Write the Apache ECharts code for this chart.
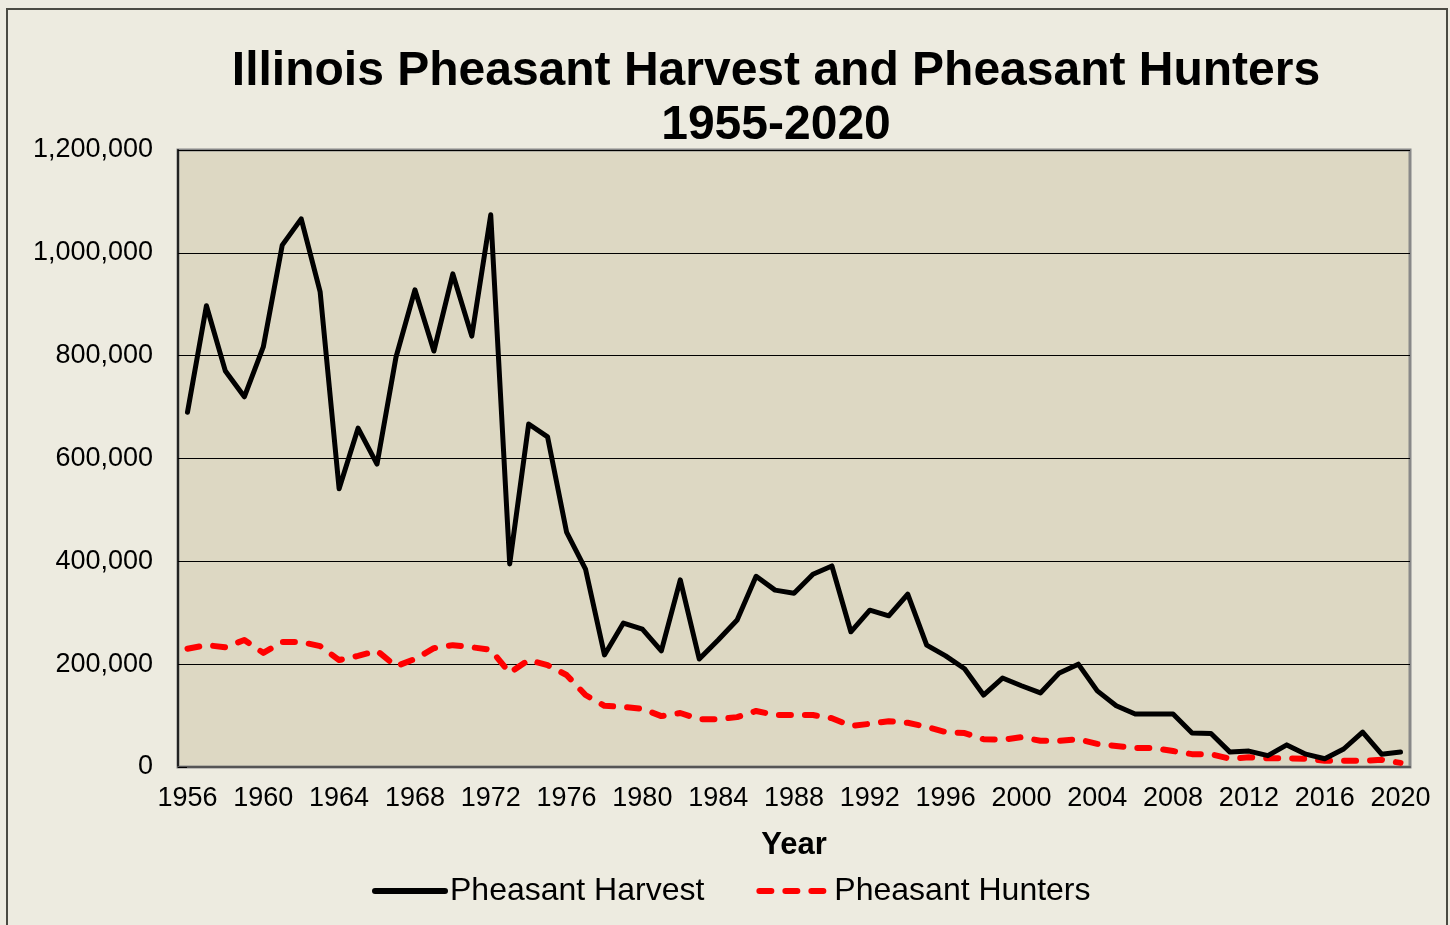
<!DOCTYPE html>
<html>
<head>
<meta charset="utf-8">
<title>Illinois Pheasant Harvest and Pheasant Hunters</title>
<script src="https://cdn.jsdelivr.net/npm/echarts@6/dist/echarts.min.js"></script>
<style>
  html, body { margin: 0; padding: 0; background: #EDEBE0; }
  #chart { width: 1450px; height: 925px; }
</style>
</head>
<body>
<div id="chart"></div>
<script>
const years = [];
for (let y = 1956; y <= 2020; y++) years.push(String(y));

const harvest = [
  690000, 897000, 770000, 720000, 817000, 1015000, 1066000, 924000, 541000, 659000,
  589000, 797000, 928000, 809000, 959000, 838000, 1074000, 395000, 667000, 642000,
  457000, 385000, 218000, 280000, 268000, 226000, 364000, 210000, 247000, 286000,
  371000, 344000, 338000, 375000, 391000, 263000, 305000, 294000, 336000, 237000,
  216000, 191000, 140000, 173000, 158000, 144000, 183000, 200000, 148000, 119000,
  103000, 103000, 103000, 66000, 65000, 29000, 31000, 22000, 43000, 25000,
  16000, 35000, 68000, 25000, 29000
];

const hunters = [
  230000, 237000, 233000, 247000, 222000, 243000, 243000, 235000, 208000, 216000,
  226000, 196000, 210000, 231000, 237000, 233000, 228000, 183000, 208000, 198000,
  179000, 140000, 119000, 117000, 113000, 99000, 105000, 93000, 93000, 97000,
  109000, 101000, 101000, 101000, 95000, 80000, 84000, 89000, 86000, 78000,
  68000, 66000, 54000, 53000, 58000, 51000, 51000, 54000, 45000, 41000,
  37000, 37000, 31000, 25000, 25000, 16000, 19000, 17000, 17000, 16000,
  12000, 12000, 12000, 14000, 8000
];

const font = '"Liberation Sans", Arial, sans-serif';

const chart = echarts.init(document.getElementById('chart'));

const option = {
  backgroundColor: '#EDEBE0',
  animation: false,
  textStyle: { fontFamily: font, color: '#000' },
  graphic: [
    {
      type: 'rect',
      shape: { x: 7, y: 9, width: 1440, height: 940 },
      style: { fill: 'none', stroke: '#4A4A42', lineWidth: 2 },
      z: -1
    }
  ],
  title: {
    text: 'Illinois Pheasant Harvest and Pheasant Hunters\n1955-2020',
    left: 771,
    top: 40,
    textAlign: 'center',
    textStyle: {
      fontFamily: font,
      fontSize: 48,
      fontWeight: 'bold',
      color: '#000',
      lineHeight: 54
    }
  },
  legend: {
    bottom: 13,
    left: 367,
    itemWidth: 70,
    itemHeight: 14,
    itemGap: 52,
    lineStyle: { width: 6 },
    itemStyle: { opacity: 0 },
    textStyle: { fontFamily: font, fontSize: 32, color: '#000' },
    data: ['Pheasant Harvest', 'Pheasant Hunters']
  },
  grid: {
    left: 178,
    right: 40,
    top: 150,
    bottom: 158,
    show: true,
    backgroundColor: '#DDD8C3',
    borderColor: '#888888',
    borderWidth: 3,
    containLabel: false
  },
  xAxis: {
    type: 'category',
    data: years,
    boundaryGap: true,
    name: 'Year',
    nameLocation: 'middle',
    nameGap: 63,
    nameTextStyle: { fontFamily: font, fontSize: 31, fontWeight: 'bold', color: '#000' },
    axisLine: { lineStyle: { color: '#555', width: 2 } },
    axisTick: { show: false },
    axisLabel: {
      interval: 3,
      fontFamily: font,
      fontSize: 27,
      color: '#000',
      margin: 18
    }
  },
  yAxis: {
    type: 'value',
    min: 0,
    max: 1200000,
    interval: 200000,
    axisLine: { show: true, lineStyle: { color: '#222', width: 2 } },
    axisTick: { show: true, inside: true, length: 9, lineStyle: { color: '#000' } },
    splitLine: { lineStyle: { color: '#000', width: 1 } },
    axisLabel: {
      fontFamily: font,
      fontSize: 27,
      color: '#000',
      margin: 25,
      formatter: v => v.toLocaleString('en-US')
    }
  },
  series: [
    {
      name: 'Pheasant Harvest',
      type: 'line',
      data: harvest,
      symbol: 'none',
      lineStyle: { color: '#000', width: 5, cap: 'round', join: 'round' },
      itemStyle: { color: '#000' },
      z: 3
    },
    {
      name: 'Pheasant Hunters',
      type: 'line',
      data: hunters,
      symbol: 'none',
      lineStyle: { color: '#FF0000', width: 6, type: [12, 14], cap: 'round', join: 'round' },
      itemStyle: { color: '#FF0000' },
      z: 2
    }
  ]
};

chart.setOption(option);

window.addEventListener('resize', () => chart.resize());
</script>
</body>
</html>
